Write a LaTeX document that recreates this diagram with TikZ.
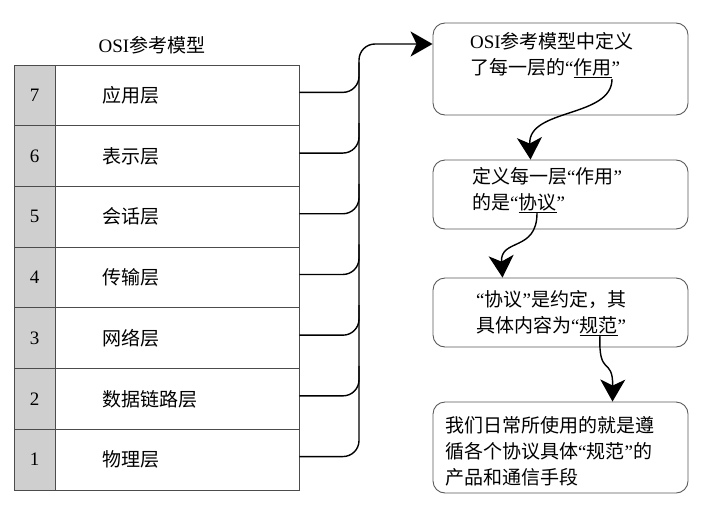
\documentclass[tikz,border=0pt]{standalone}
\usepackage{fontspec}
\setmainfont{Liberation Serif}
\newfontfamily\cjk{Noto Sans CJK SC}
\usetikzlibrary{arrows.meta,calc}
\newcommand\lquo{{\rmfamily “}}
\newcommand\rquo{{\rmfamily ”}}

\tikzstyle{numcell} = [draw=black!70, line width=0.8pt, fill=black!19, minimum width=41pt, minimum height=60.7pt, inner sep=0pt, font=\fontsize{19}{24}\selectfont]
\tikzstyle{laycell} = [draw=black!70, line width=0.8pt, minimum width=244pt, minimum height=60.7pt, text width=150pt, inner xsep=47pt, align=left, font=\cjk\fontsize{19}{24}\selectfont]
\tikzstyle{box} = [draw=black!65, line width=0.9pt, rounded corners=12pt, minimum width=255pt, inner sep=0pt]
\tikzstyle{boxtext} = [anchor=north west, inner sep=0pt, align=left, font=\cjk\fontsize{19}{26}\selectfont]
\tikzstyle{link} = [line width=1.4pt, rounded corners=16pt]
\tikzstyle{arr} = [line width=1.4pt, -{Stealth[length=22pt,width=25pt,inset=6pt]}]

\begin{document}
\begin{tikzpicture}[x=1pt, y=-1pt]
\useasboundingbox (0,0) rectangle (708,514);
%titel
\node[font=\fontsize{19}{24}\selectfont] (title) at (152,45) {OSI{\cjk 参考模型}};
%lagen
\foreach \nr/\naam [count=\k from 0] in {7/应用层,6/表示层,5/会话层,4/传输层,3/网络层,2/数据链路层,1/物理层} {
    \node[numcell] (n\nr) at (34.5,{95.35+60.7*\k}) {\nr};
    \node[laycell] (l\nr) at (177,{95.35+60.7*\k}) {\naam};
}
%klamme
\coordinate (trunk) at (359,44);
\foreach \nr in {2,...,7}
    \draw[link] ([yshift=3pt]l\nr.east) -- ([yshift=3pt]l\nr.east -| trunk) -- ++(0,-30);
%begin kaders
\node[box, minimum height=92pt] (box1) at (560.5,69) {};
\node[box, minimum height=69pt] (box2) at (560.5,194.5) {};
\node[box, minimum height=69pt] (box3) at (560.5,312.5) {};
\node[box, minimum height=91pt] (box4) at (560.5,447.5) {};
\draw[arr, rounded corners=16pt] ([yshift=3pt]l1.east) -| (trunk) -- ([yshift=25pt]box1.west);
%teksten
\node[boxtext] (t1) at (470,32) {{\rmfamily OSI}参考模型中定义\\了每一层的\lquo\underline{作用}\rquo};
\node[boxtext] (t2) at (472,167) {定义每一层\lquo 作用\rquo\\的是\lquo\underline{协议}\rquo};
\node[boxtext] (t3) at (476,290) {\lquo 协议\rquo 是约定，其\\具体内容为\lquo\underline{规范}\rquo};
\node[boxtext] (t4) at (445,416) {我们日常所使用的就是遵\\循各个协议具体\lquo 规范\rquo 的\\产品和通信手段};
%pijlen
\coordinate (u1) at (612,79);
\coordinate (u2) at (537,213);
\coordinate (u3) at (600,335);
\draw[arr] (u1) .. controls (612,118) and (528,108) .. ([xshift=-30pt]box2.north);
\draw[arr] (u2) .. controls (537,252) and (500,238) .. ([xshift=-58pt]box3.north);
\draw[arr] (u3) .. controls (598,378) and (613,356) .. ([xshift=52pt]box4.north);
%end kaders
\end{tikzpicture}
\end{document}
